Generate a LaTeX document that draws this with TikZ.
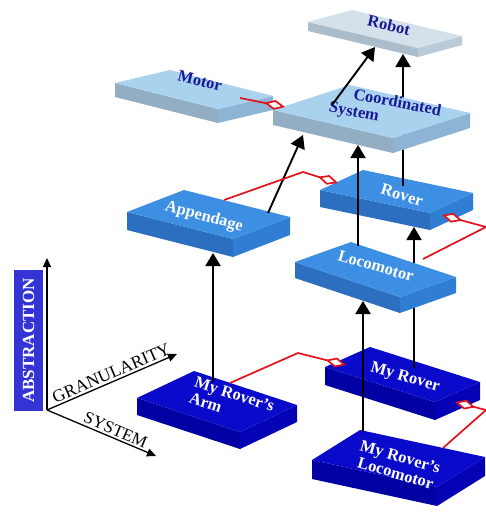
\documentclass[tikz,border=0pt]{standalone}
\usepackage{fontspec}
\setmainfont{Liberation Serif}
\usetikzlibrary{calc, arrows.meta}

\definecolor{paleTop}{HTML}{D4E1EB}
\definecolor{paleFront}{HTML}{ABBDCB}
\definecolor{paleSide}{HTML}{B9CBD8}
\definecolor{lightTop}{HTML}{A9D2EE}
\definecolor{lightFront}{HTML}{93AEC2}
\definecolor{lightSide}{HTML}{8DB4D4}
\definecolor{midTop}{HTML}{3C8FE2}
\definecolor{midFront}{HTML}{2C6FC0}
\definecolor{midSide}{HTML}{2F7ED4}
\definecolor{darkTop}{HTML}{0A0ACB}
\definecolor{darkFront}{HTML}{0000A3}
\definecolor{darkSide}{HTML}{0303B5}
\definecolor{navy}{HTML}{1A1A96}
\definecolor{axisBlue}{HTML}{3434D4}
\definecolor{partRed}{HTML}{E3121B}

% slab: style, name, left corner, long edge, short edge, thickness
\newcommand{\slab}[6]{%
  \coordinate (#2-l) at #3;
  \coordinate (#2-f) at ($(#2-l)+#4$);
  \coordinate (#2-r) at ($(#2-f)+#5$);
  \coordinate (#2-b) at ($(#2-l)+#5$);
  \fill[#1 front] (#2-l) -- (#2-f) -- ($(#2-f)+(0,#6)$) -- ($(#2-l)+(0,#6)$) -- cycle;
  \fill[#1 side] (#2-f) -- (#2-r) -- ($(#2-r)+(0,#6)$) -- ($(#2-f)+(0,#6)$) -- cycle;
  \fill[#1 top] (#2-l) -- (#2-f) -- (#2-r) -- (#2-b) -- cycle;
}

\begin{document}
\begin{tikzpicture}[x=1pt, y=-1pt,
    pale top/.style={fill=paleTop}, pale front/.style={fill=paleFront}, pale side/.style={fill=paleSide},
    light top/.style={fill=lightTop}, light front/.style={fill=lightFront}, light side/.style={fill=lightSide},
    mid top/.style={fill=midTop}, mid front/.style={fill=midFront}, mid side/.style={fill=midSide},
    dark top/.style={fill=darkTop}, dark front/.style={fill=darkFront}, dark side/.style={fill=darkSide},
    ltext/.style={font=\fontsize{16.5}{17}\selectfont\bfseries, text=navy, inner sep=0pt},
    wtext/.style={font=\fontsize{16.5}{17}\selectfont\bfseries, text=white, inner sep=0pt},
    gen/.style={draw, line width=1.9pt, -{Triangle[length=13pt, width=15pt]}},
    part/.style={draw=partRed, line width=1.7pt, -{Diamond[length=21pt, width=10pt, fill=white]}},
    axis/.style={draw, line width=1.3pt, -{Triangle[length=9pt, width=8pt]}}]
        \useasboundingbox[fill=white] (0,0) rectangle (486,512);

        % Slabs behind the through-going lines
        \slab{pale}{robot}{(308,22)}{(110,26)}{(44,-12)}{9}
        \slab{light}{motor}{(115,83)}{(103,26)}{(55,-13)}{14}
        \slab{mid}{rover}{(320,190)}{(110,23)}{(43,-20)}{17}
        \slab{mid}{append}{(127,212)}{(106,27)}{(57,-22)}{18}
        \slab{dark}{myrover}{(325,367)}{(110,35)}{(45,-20)}{18}
        \slab{dark}{arm}{(137,398)}{(103,34)}{(57,-27)}{17}
        \slab{dark}{myloco}{(312,460)}{(125,27)}{(48,-30)}{19}

        % Connector ends
        \coordinate (roverUp) at (403,186);
        \coordinate (robotDownB) at (403,54);
        \coordinate (myroverUp) at (414,368);
        \coordinate (roverDown) at (414,227);

        % Lines passing behind Coordinated System and Locomotor
        \draw[gen] (roverUp) -- (robotDownB);
        \draw[gen] (myroverUp) -- (roverDown);

        % Slabs in front
        \slab{light}{coord}{(273,110)}{(120,28)}{(77,-25)}{15}
        \slab{mid}{loco}{(295,262)}{(105,35)}{(56,-20)}{16}

        % Labels
        \node[ltext, rotate=-13] (robot) at (389,25) {Robot};
        \node[ltext, rotate=-14] (motor) at (200,81) {Motor};
        \node[ltext, rotate=-11, align=left] (coord) at (385,110) {\hspace*{1.3em}Coordinated\\System};
        \node[wtext, rotate=-17] (rover) at (402,195) {Rover};
        \node[wtext, rotate=-15] (append) at (204,217) {Appendage};
        \node[wtext, rotate=-16] (loco) at (376,266) {Locomotor};
        \node[wtext, rotate=-18, align=left] (arm) at (232,402) {My Rover’s\\Arm};
        \node[wtext, rotate=-16] (myrover) at (405,378) {My Rover};
        \node[wtext, rotate=-16, align=center] (myloco) at (398,465) {My Rover’s\\Locomotor};

        % Generalisation arrows
        \coordinate (appendUp) at (268,213);
        \coordinate (coordDownA) at (303,135);
        \coordinate (coordUp) at (332,105);
        \coordinate (robotDownA) at (375,47);
        \coordinate (locoUp) at (358,246);
        \coordinate (coordDownB) at (358,145);
        \coordinate (mylocoUp) at (363,432);
        \coordinate (locoDown) at (363,301);
        \coordinate (armUp) at (213,382);
        \coordinate (appendDown) at (213,253);
        \draw[gen] (appendUp) -- (coordDownA);
        \draw[gen] (coordUp) -- (robotDownA);
        \draw[gen] (locoUp) -- (coordDownB);
        \draw[gen] (mylocoUp) -- (locoDown);
        \draw[gen] (armUp) -- (appendDown);

        % Part-of links
        \coordinate (motorOut) at (240,98);
        \coordinate (coordIn) at (285,107);
        \coordinate (appendOut) at (224,200);
        \coordinate (bendA) at (303,172);
        \coordinate (roverInA) at (338,183);
        \coordinate (locoOut) at (423,259);
        \coordinate (bendB) at (486,227);
        \coordinate (roverInB) at (442,215);
        \coordinate (armOut) at (230,383);
        \coordinate (bendC) at (298,353);
        \coordinate (myroverInA) at (346,365);
        \coordinate (mylocoOut) at (443,448);
        \coordinate (bendD) at (486,410);
        \coordinate (myroverInB) at (455,402);
        \draw[part] (motorOut) -- (coordIn);
        \draw[part] (appendOut) -- (bendA) -- (roverInA);
        \draw[part] (locoOut) -- (bendB) -- (roverInB);
        \draw[part] (armOut) -- (bendC) -- (myroverInA);
        \draw[part] (mylocoOut) -- (bendD) -- (myroverInB);

        % Axes
        \node[fill=axisBlue, text=white, font=\fontsize{17}{17}\selectfont\bfseries, rotate=90,
              minimum width=141pt, minimum height=29pt, inner sep=0pt] (abs) at (28.5,340.5) {ABSTRACTION};
        \coordinate (O) at (47,410);
        \coordinate (absEnd) at (47,258);
        \coordinate (granEnd) at (177,354);
        \coordinate (sysEnd) at (156,456);
        \draw[axis] (O) -- (absEnd);
        \draw[axis] (O) -- (granEnd) node[sloped, above, pos=0.52, font=\fontsize{17.5}{17}\selectfont, inner sep=2pt] (gran) {GRANULARITY};
        \draw[axis] (O) -- (sysEnd) node[sloped, above, pos=0.6, font=\fontsize{17}{17}\selectfont, inner sep=2pt] (sys) {SYSTEM};
    \end{tikzpicture}
\end{document}
